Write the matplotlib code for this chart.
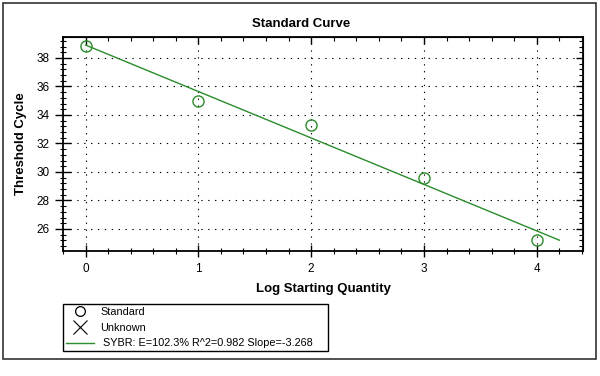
import numpy as np
import matplotlib
matplotlib.use("Agg")
import matplotlib.pyplot as plt
from matplotlib.lines import Line2D
from matplotlib.patches import Rectangle
from matplotlib.ticker import MultipleLocator

# standard curve data
log_qty = [0, 1, 2, 3, 4]
ct = [38.84, 34.97, 33.3, 29.58, 25.23]
fit_x_end = 4.2
legend_labels = ["Standard", "Unknown", " SYBR: E=102.3% R^2=0.982 Slope=-3.268"]

green = "#2a8c2a"
plt.rcParams["font.family"] = ["Liberation Sans", "DejaVu Sans"]

fig = plt.figure(figsize=(6, 3.76), dpi=100)
fig.patches.append(Rectangle((0.005, 0.045), 0.988, 0.947, transform=fig.transFigure,
                             fill=False, edgecolor="#333333", linewidth=1.2))

ax = fig.add_axes([0.105, 0.3324, 0.8667, 0.5692])

slope, intercept = np.polyfit(log_qty, ct, 1)
xs = np.array([0, fit_x_end])
ax.plot(xs, slope * xs + intercept, color=green, linewidth=1.0, zorder=3)
ax.plot(log_qty, ct, linestyle="none", marker="o", markersize=8,
        markerfacecolor="none", markeredgecolor=green, markeredgewidth=1.0, zorder=4)

ax.set_xlim(-0.2, 4.41)
ax.set_ylim(24.45, 39.47)
ax.xaxis.set_major_locator(MultipleLocator(1))
ax.xaxis.set_minor_locator(MultipleLocator(0.2))
ax.yaxis.set_major_locator(MultipleLocator(2))
ax.yaxis.set_minor_locator(MultipleLocator(0.4))

ax.grid(True, which="major", color="black", linestyle=(0, (1.2, 5)), linewidth=0.8)
for s in ax.spines.values():
    s.set_linewidth(1.3)

ax.tick_params(which="major", direction="inout", length=9, width=1.0, labelsize=8.5, pad=4)
ax.tick_params(which="minor", direction="inout", length=5, width=0.8)
ax.tick_params(axis="y", which="major", length=11)

# top/right ticks point inwards
top = ax.secondary_xaxis("top")
top.xaxis.set_major_locator(MultipleLocator(1))
top.xaxis.set_minor_locator(MultipleLocator(0.2))
top.tick_params(which="major", direction="in", length=5, width=1.0, labeltop=False)
top.tick_params(which="minor", direction="in", length=3, width=0.8)
right = ax.secondary_yaxis("right")
right.yaxis.set_major_locator(MultipleLocator(2))
right.yaxis.set_minor_locator(MultipleLocator(0.4))
right.tick_params(which="major", direction="in", length=5, width=1.0, labelright=False)
right.tick_params(which="minor", direction="in", length=3, width=0.8)

fig.text(0.502, 0.937, "Standard Curve", ha="center", va="center",
         fontsize=9.5, fontweight="bold")
ax.set_xlabel("Log Starting Quantity", fontsize=9.5, fontweight="bold", labelpad=6)
ax.set_ylabel("Threshold Cycle", fontsize=9.5, fontweight="bold", labelpad=7)

handles = [
    Line2D([], [], linestyle="none", marker="o", markersize=7,
           markerfacecolor="none", markeredgecolor="black", markeredgewidth=0.9),
    Line2D([], [], linestyle="none", marker="x", markersize=10,
           markeredgecolor="black", markeredgewidth=0.8),
    Line2D([], [], color=green, linewidth=1.0),
]
leg = fig.legend(handles, legend_labels, loc="lower left", mode="expand",
                 bbox_to_anchor=(0.105, 0.066, 0.4417, 0.13), bbox_transform=fig.transFigure,
                 fontsize=7.8, frameon=True, fancybox=False, edgecolor="black",
                 framealpha=1, borderaxespad=0, borderpad=0.25, labelspacing=0.55,
                 handlelength=2.6, handletextpad=0.6)
leg.get_frame().set_linewidth(1.0)

fig.savefig("out.png", dpi=100)
